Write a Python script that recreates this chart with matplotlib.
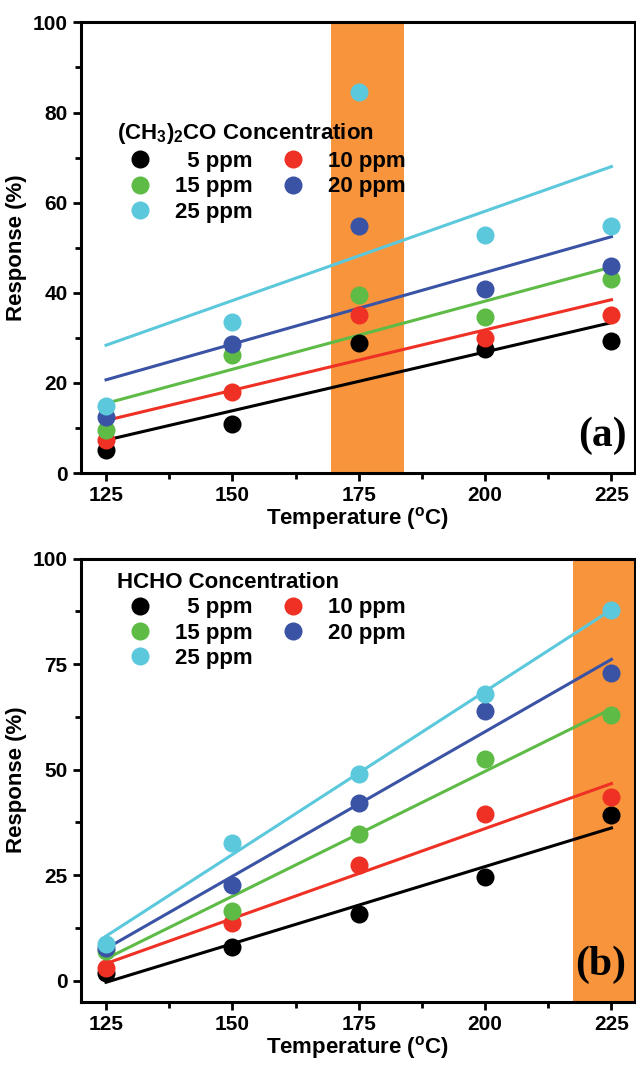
import matplotlib.pyplot as plt
import numpy as np

plt.rcParams["font.family"] = ["Liberation Sans", "DejaVu Sans"]
plt.rcParams["font.weight"] = "bold"
plt.rcParams["mathtext.default"] = "bf"

temps = np.array([125, 150, 175, 200, 225])
labels = ["  5 ppm", "10 ppm", "15 ppm", "20 ppm", "25 ppm"]
colors = ["#000000", "#EE3124", "#5DBB46", "#3A53A4", "#5BC8DC"]

# (a) acetone
acetone = [
    [5.2, 10.8, 28.8, 27.6, 29.4],
    [7.4, 18.1, 35.0, 29.9, 35.0],
    [9.6, 26.1, 39.5, 34.7, 43.1],
    [12.4, 28.7, 54.9, 40.9, 46.0],
    [15.0, 33.6, 84.6, 52.9, 54.9],
]
# (b) formaldehyde
hcho = [
    [1.8, 8.0, 15.9, 24.6, 39.2],
    [3.0, 13.6, 27.5, 39.4, 43.4],
    [7.0, 16.6, 34.8, 52.6, 63.0],
    [7.8, 22.7, 42.0, 64.0, 72.8],
    [8.7, 32.7, 49.0, 68.0, 87.7],
]
band_a = (169.6, 184.0)
band_b = (217.3, 231.0)

fig = plt.figure(figsize=(6.36, 10.68), dpi=100)
ax_a = fig.add_axes([0.127, 0.557, 0.871, 0.422])
ax_b = fig.add_axes([0.127, 0.062, 0.871, 0.415])


def panel(ax, data, band, ylim, yticks, title, tag, leg_anchor):
    ax.axvspan(*band, color="#F7943C", lw=0, zorder=0)
    handles = []
    for vals, lab, c in zip(data, labels, colors):
        k, b = np.polyfit(temps, vals, 1)
        ax.plot(temps, k * temps + b, color=c, lw=2.2, zorder=2)
        h, = ax.plot(temps, vals, "o", color=c, ms=13, mec="none", zorder=3, label=lab)
        handles.append(h)
    ax.set_xlim(120, 229.6)
    ax.set_ylim(*ylim)
    ax.set_xticks(temps)
    ax.set_xticks(temps[:-1] + 12.5, minor=True)
    ax.set_yticks(yticks)
    ax.set_yticks(np.array(yticks[:-1]) + (yticks[1] - yticks[0]) / 2, minor=True)
    ax.tick_params(labelsize=15, width=2, length=6, direction="out")
    ax.tick_params(which="minor", width=2, length=4, direction="out")
    for s in ax.spines.values():
        s.set_linewidth(2.2)
    ax.set_xlabel("Temperature ($^{\\mathregular{o}}$C)", fontsize=16, fontweight="bold", labelpad=0)
    ax.set_ylabel("Response (%)", fontsize=16, fontweight="bold")
    order = [0, 2, 4, 1, 3]
    leg = ax.legend([handles[i] for i in order], [labels[i] for i in order], ncol=2,
                    loc="upper left", bbox_to_anchor=leg_anchor, frameon=False,
                    title=title, title_fontproperties={"size": 16, "weight": "bold"},
                    prop={"size": 16, "weight": "bold"}, handletextpad=0.6,
                    columnspacing=0.8, labelspacing=0.2, borderaxespad=0)
    leg._legend_box.align = "left"
    ax.text(0.985, 0.04, tag, transform=ax.transAxes, ha="right", va="bottom",
            fontsize=30, fontweight="bold", family="Liberation Serif")


panel(ax_a, acetone, band_a, (0, 100), [0, 20, 40, 60, 80, 100],
      "(CH$_\\mathregular{3}$)$_\\mathregular{2}$CO Concentration", "(a)", (0.05, 0.80))
panel(ax_b, hcho, band_b, (-5, 100), [0, 25, 50, 75, 100],
      "HCHO Concentration", "(b)", (0.05, 0.99))

fig.savefig("out.png", dpi=100)
